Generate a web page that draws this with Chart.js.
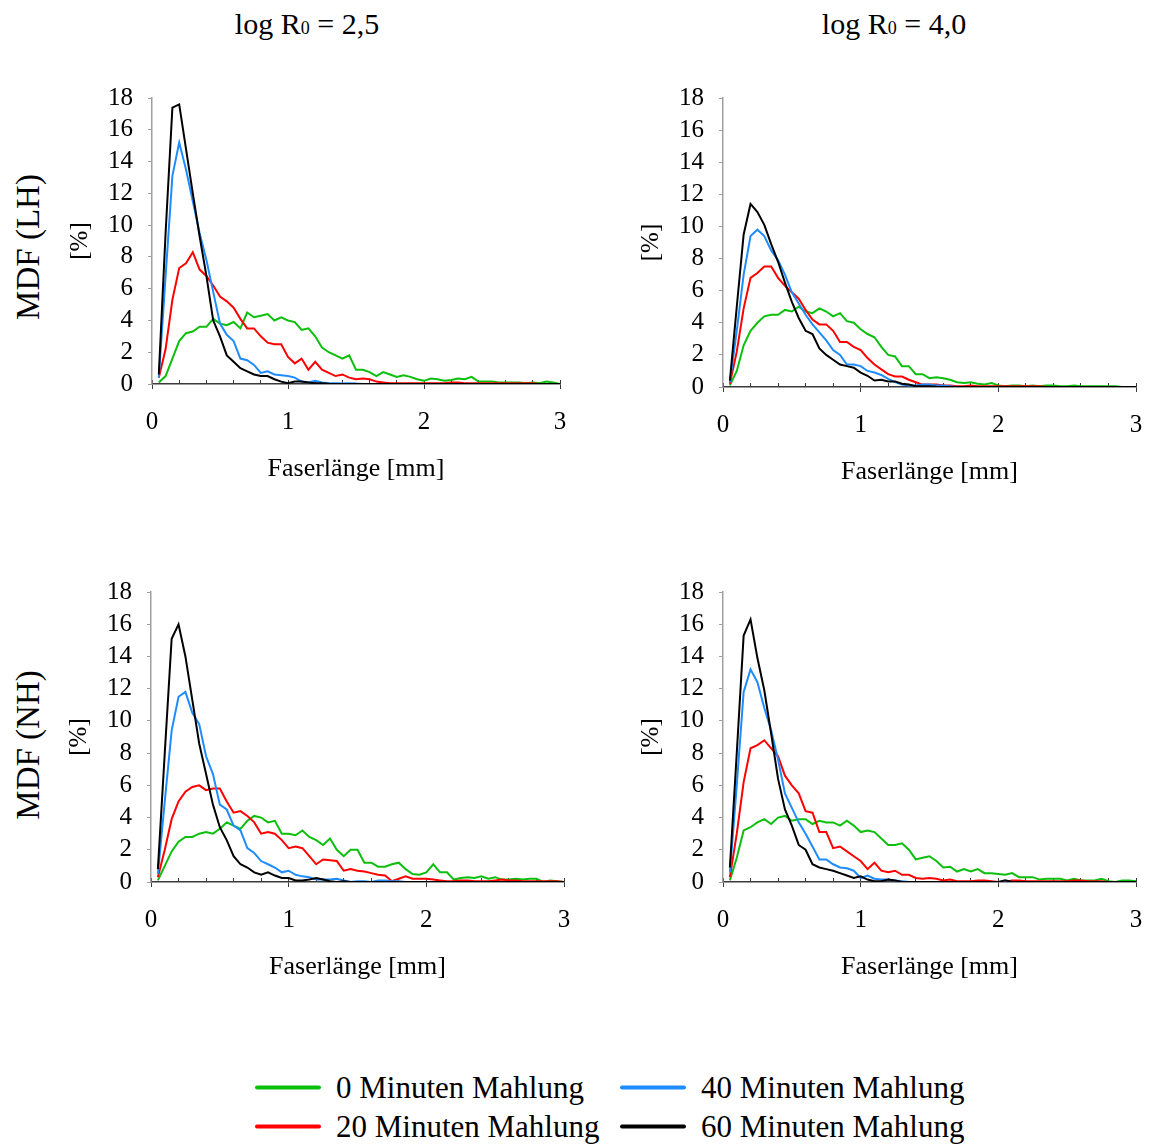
<!DOCTYPE html>
<html lang="de">
<head>
<meta charset="utf-8">
<title>MDF – Faserlängenverteilung</title>
<script src="https://cdn.jsdelivr.net/npm/chart.js@4/dist/chart.umd.min.js"></script>
<style>
  html, body { margin: 0; padding: 0; background: #fff; }
  body {
    position: relative; width: 1151px; height: 1144px; overflow: hidden;
    font-family: "Liberation Serif", "Times New Roman", serif; color: #000;
  }
  canvas { position: absolute; }
  .txt { position: absolute; line-height: 1; white-space: nowrap; }
  .col-title { font-size: 30px; transform: translateX(-50%); }
  .col-title span { font-size: 0.6em; }
  .row-title { font-size: 33px; transform: translate(-50%, -50%) rotate(-90deg); }
  .legend { font-size: 31px; display: flex; align-items: center; transform: translateY(-50%); }
  .legend i { display: inline-block; width: 66px; height: 4px; border-radius: 2px; margin-right: 15px; }
</style>
</head>
<body>
<script>
// Massenverteilungsdichte (MDF) der Faserlänge, Klassenbreite 0,05 mm
const faserlaenge = [
  0.05, 0.1, 0.15, 0.2, 0.25, 0.3, 0.35, 0.4, 0.45, 0.5,
  0.55, 0.6, 0.65, 0.7, 0.75, 0.8, 0.85, 0.9, 0.95, 1.0,
  1.05, 1.1, 1.15, 1.2, 1.25, 1.3, 1.35, 1.4, 1.45, 1.5,
  1.55, 1.6, 1.65, 1.7, 1.75, 1.8, 1.85, 1.9, 1.95, 2.0,
  2.05, 2.1, 2.15, 2.2, 2.25, 2.3, 2.35, 2.4, 2.45, 2.5,
  2.55, 2.6, 2.65, 2.7, 2.75, 2.8, 2.85, 2.9, 2.95, 3.0,
];

const mahlung = ['0 Minuten Mahlung', '20 Minuten Mahlung', '40 Minuten Mahlung', '60 Minuten Mahlung'];
const farben = ['#0cbf0c', '#ff0000', '#1e8cff', '#000000'];

const xTicks = [0, 1, 2, 3];
const yTicks = [0, 2, 4, 6, 8, 10, 12, 14, 16, 18];

// LH, log R0 = 2,5
const lh25m0 = [
  0.1, 0.5, 1.6, 2.7, 3.2, 3.3, 3.6, 3.6, 4.1, 3.8,
  3.7, 3.9, 3.5, 4.5, 4.2, 4.3, 4.4, 4.0, 4.2, 4.0,
  3.9, 3.4, 3.5, 3.0, 2.3, 2.0, 1.8, 1.6, 1.8, 0.9,
  0.9, 0.75, 0.5, 0.75, 0.6, 0.45, 0.55, 0.45, 0.3, 0.2,
  0.35, 0.3, 0.2, 0.25, 0.35, 0.3, 0.45, 0.15, 0.15, 0.15,
  0.1, 0.1, 0.1, 0.1, 0.05, 0.1, 0.05, 0.15, 0.1, 0.0,
];
const lh25m20 = [
  0.4, 2.2, 5.3, 7.3, 7.6, 8.3, 7.2, 6.8, 6.2, 5.5,
  5.2, 4.8, 4.1, 3.5, 3.5, 3.0, 2.6, 2.5, 2.5, 1.7,
  1.3, 1.6, 0.9, 1.4, 0.9, 0.7, 0.5, 0.6, 0.4, 0.3,
  0.35, 0.3, 0.15, 0.1, 0.05, 0.05, 0.05, 0.05, 0.05, 0.05,
  0.05, 0.05, 0.05, 0.1, 0.1, 0.05, 0.05, 0.05, 0.05, 0.05,
  0.05, 0.05, 0.05, 0.05, 0.05, 0.05, 0.0, 0.0, 0.0, 0.0,
];
const lh25m40 = [
  0.4, 6.8, 13.1, 15.2, 13.5, 11.5, 9.5, 7.8, 5.8, 3.8,
  3.1, 2.7, 1.6, 1.5, 1.2, 0.7, 0.8, 0.6, 0.55, 0.5,
  0.4, 0.15, 0.1, 0.2, 0.1, 0.05, 0.05, 0.03, 0.05, 0.03,
  0.0, 0.0, 0.0, 0.0, 0.0, 0.0, 0.0, 0.0, 0.0, 0.0,
  0.0, 0.0, 0.0, 0.0, 0.0, 0.0, 0.0, 0.0, 0.0, 0.0,
  0.0, 0.0, 0.0, 0.0, 0.0, 0.0, 0.0, 0.0, 0.0, 0.0,
];
const lh25m60 = [
  0.6, 9.5, 17.4, 17.6, 14.8, 12.0, 9.3, 6.8, 4.0, 3.0,
  1.8, 1.4, 1.0, 0.8, 0.6, 0.5, 0.5, 0.3, 0.15, 0.05,
  0.15, 0.15, 0.1, 0.05, 0.05, 0.02, 0.0, 0.0, 0.0, 0.0,
  0.0, 0.0, 0.0, 0.0, 0.0, 0.0, 0.0, 0.0, 0.0, 0.0,
  0.0, 0.0, 0.0, 0.0, 0.0, 0.0, 0.0, 0.0, 0.0, 0.0,
  0.0, 0.0, 0.0, 0.0, 0.0, 0.0, 0.0, 0.0, 0.0, 0.0,
];

// LH, log R0 = 4,0
const lh40m0 = [
  0.1, 1.0, 2.6, 3.5, 4.0, 4.4, 4.5, 4.5, 4.8, 4.7,
  5.0, 4.7, 4.6, 4.9, 4.7, 4.4, 4.6, 4.1, 4.0, 3.6,
  3.3, 3.1, 2.5, 2.0, 1.9, 1.3, 1.3, 0.8, 0.8, 0.55,
  0.6, 0.55, 0.45, 0.3, 0.25, 0.3, 0.2, 0.15, 0.25, 0.1,
  0.05, 0.1, 0.1, 0.05, 0.1, 0.05, 0.1, 0.1, 0.05, 0.05,
  0.1, 0.05, 0.05, 0.05, 0.05, 0.05, 0.05, 0.0, 0.0, 0.0,
];
const lh40m20 = [
  0.2, 2.2, 4.9, 6.8, 7.1, 7.5, 7.5, 6.8, 6.3, 5.9,
  5.5, 4.8, 4.2, 3.9, 3.9, 3.5, 2.8, 2.8, 2.5, 2.3,
  1.8, 1.4, 1.1, 0.8, 0.65, 0.65, 0.45, 0.3, 0.15, 0.15,
  0.15, 0.1, 0.1, 0.05, 0.05, 0.1, 0.05, 0.05, 0.05, 0.05,
  0.05, 0.05, 0.05, 0.05, 0.05, 0.05, 0.0, 0.0, 0.0, 0.0,
  0.0, 0.0, 0.0, 0.0, 0.0, 0.0, 0.0, 0.0, 0.0, 0.0,
];
const lh40m40 = [
  0.3, 3.5, 7.0, 9.4, 9.8, 9.4, 8.5, 7.9, 7.0, 5.9,
  5.2, 4.5, 3.9, 3.4, 2.9, 2.3, 2.0, 1.4, 1.4, 1.3,
  1.0, 0.9, 0.75, 0.5, 0.3, 0.15, 0.1, 0.1, 0.15, 0.15,
  0.1, 0.1, 0.05, 0.0, 0.0, 0.0, 0.0, 0.0, 0.0, 0.0,
  0.0, 0.0, 0.0, 0.0, 0.0, 0.0, 0.0, 0.0, 0.0, 0.0,
  0.0, 0.0, 0.0, 0.0, 0.0, 0.0, 0.0, 0.0, 0.0, 0.0,
];
const lh40m60 = [
  0.4, 5.0, 9.5, 11.4, 10.9, 10.1, 8.9, 7.8, 6.5, 5.3,
  4.3, 3.5, 3.3, 2.4, 2.0, 1.7, 1.4, 1.3, 1.2, 0.9,
  0.7, 0.4, 0.45, 0.35, 0.35, 0.2, 0.15, 0.05, 0.05, 0.05,
  0.02, 0.0, 0.0, 0.0, 0.0, 0.0, 0.0, 0.0, 0.0, 0.0,
  0.0, 0.0, 0.0, 0.0, 0.0, 0.0, 0.0, 0.0, 0.0, 0.0,
  0.0, 0.0, 0.0, 0.0, 0.0, 0.0, 0.0, 0.0, 0.0, 0.0,
];

// NH, log R0 = 2,5
const nh25m0 = [
  0.1, 1.0, 1.9, 2.5, 2.8, 2.8, 3.0, 3.1, 3.0, 3.3,
  3.7, 3.5, 3.3, 3.8, 4.1, 4.0, 3.7, 3.8, 3.0, 3.0,
  2.9, 3.2, 2.8, 2.6, 2.3, 2.7, 2.0, 1.6, 2.0, 2.0,
  1.2, 1.2, 0.95, 0.95, 1.1, 1.2, 0.8, 0.5, 0.45, 0.6,
  1.1, 0.6, 0.6, 0.15, 0.25, 0.3, 0.25, 0.35, 0.2, 0.3,
  0.15, 0.15, 0.2, 0.15, 0.2, 0.2, 0.0, 0.1, 0.05, 0.0,
];
const nh25m20 = [
  0.3, 2.0, 3.9, 5.0, 5.6, 5.9, 6.0, 5.7, 5.8, 5.8,
  5.0, 4.3, 4.4, 4.1, 3.7, 3.0, 3.1, 3.0, 2.6, 2.1,
  2.2, 2.1, 1.6, 1.1, 1.4, 1.35, 1.3, 0.7, 0.8, 0.7,
  0.65, 0.55, 0.45, 0.4, 0.05, 0.2, 0.35, 0.2, 0.2, 0.2,
  0.15, 0.1, 0.05, 0.05, 0.1, 0.1, 0.05, 0.05, 0.05, 0.1,
  0.15, 0.1, 0.1, 0.05, 0.05, 0.05, 0.05, 0.05, 0.05, 0.0,
];
const nh25m40 = [
  0.5, 5.0, 9.4, 11.5, 11.8, 10.5, 9.8, 7.8, 6.7, 4.8,
  4.5, 3.5, 3.2, 2.1, 1.8, 1.3, 1.1, 0.9, 0.6, 0.7,
  0.45, 0.35, 0.3, 0.15, 0.15, 0.15, 0.2, 0.1, 0.0, 0.05,
  0.05, 0.0, 0.1, 0.1, 0.05, 0.05, 0.0, 0.0, 0.0, 0.0,
  0.0, 0.0, 0.0, 0.0, 0.0, 0.0, 0.0, 0.0, 0.0, 0.0,
  0.0, 0.0, 0.0, 0.0, 0.0, 0.0, 0.0, 0.0, 0.0, 0.0,
];
const nh25m60 = [
  0.8, 8.0, 15.1, 16.0, 14.0, 11.3, 8.6, 6.7, 4.8, 3.4,
  2.6, 1.6, 1.1, 0.9, 0.6, 0.45, 0.6, 0.4, 0.25, 0.25,
  0.1, 0.1, 0.15, 0.25, 0.15, 0.05, 0.0, 0.05, 0.0, 0.0,
  0.0, 0.0, 0.0, 0.0, 0.0, 0.0, 0.0, 0.0, 0.0, 0.0,
  0.0, 0.0, 0.0, 0.0, 0.0, 0.0, 0.0, 0.0, 0.0, 0.0,
  0.0, 0.0, 0.0, 0.0, 0.0, 0.0, 0.0, 0.0, 0.0, 0.0,
];

// NH, log R0 = 4,0
const nh40m0 = [
  0.1, 1.5, 3.2, 3.4, 3.7, 3.9, 3.6, 4.0, 4.1, 3.8,
  3.9, 3.9, 3.6, 3.8, 3.7, 3.7, 3.5, 3.8, 3.5, 3.1,
  3.2, 3.1, 2.7, 2.3, 2.3, 2.4, 2.0, 1.4, 1.5, 1.6,
  1.3, 0.9, 0.95, 0.65, 0.8, 0.65, 0.8, 0.55, 0.55, 0.5,
  0.45, 0.55, 0.3, 0.3, 0.3, 0.15, 0.2, 0.2, 0.2, 0.1,
  0.2, 0.1, 0.1, 0.1, 0.2, 0.05, 0.0, 0.1, 0.1, 0.05,
];
const nh40m20 = [
  0.3, 3.0, 6.2, 8.3, 8.5, 8.8, 8.3, 7.8, 6.6, 6.0,
  5.5, 4.4, 4.3, 3.1, 3.1, 2.1, 2.2, 1.9, 1.6, 1.3,
  0.8, 1.2, 0.7, 0.6, 0.7, 0.45, 0.45, 0.25, 0.2, 0.25,
  0.2, 0.1, 0.15, 0.05, 0.05, 0.05, 0.1, 0.1, 0.05, 0.0,
  0.0, 0.1, 0.1, 0.05, 0.05, 0.05, 0.05, 0.05, 0.05, 0.05,
  0.1, 0.1, 0.05, 0.05, 0.05, 0.0, 0.0, 0.0, 0.0, 0.0,
];
const nh40m40 = [
  0.6, 6.0, 11.8, 13.2, 12.4, 10.8, 9.4, 7.6, 5.5, 4.6,
  3.7, 3.0, 2.2, 1.4, 1.4, 1.1, 0.9, 0.85, 0.7, 0.25,
  0.4, 0.2, 0.15, 0.15, 0.1, 0.05, 0.0, 0.0, 0.0, 0.0,
  0.0, 0.0, 0.0, 0.0, 0.0, 0.0, 0.0, 0.0, 0.0, 0.0,
  0.05, 0.0, 0.0, 0.0, 0.0, 0.0, 0.0, 0.0, 0.0, 0.0,
  0.0, 0.0, 0.0, 0.0, 0.0, 0.0, 0.0, 0.0, 0.0, 0.0,
];
const nh40m60 = [
  0.9, 8.0, 15.3, 16.3, 13.9, 11.9, 9.2, 6.4, 4.5, 3.5,
  2.3, 2.0, 1.1, 0.9, 0.8, 0.7, 0.55, 0.4, 0.25, 0.35,
  0.15, 0.05, 0.05, 0.15, 0.1, 0.0, 0.0, 0.0, 0.0, 0.0,
  0.0, 0.0, 0.0, 0.0, 0.0, 0.0, 0.0, 0.0, 0.0, 0.0,
  0.1, 0.0, 0.0, 0.0, 0.0, 0.0, 0.0, 0.0, 0.0, 0.0,
  0.0, 0.0, 0.0, 0.0, 0.0, 0.0, 0.0, 0.0, 0.0, 0.0,
];

// page layout: plot areas in page pixels, axis boxes are fixed so the four
// plots line up like the printed figure
const Y_AXIS_W = 91;
const X_AXIS_H = 116;
const PAD_TOP = 28;
const PAD_RIGHT = 14;
const AXIS_DARK = '#3a3a3a';
const AXIS_GREY = '#a0a0a0';

const panels = [
  { series: [lh25m0, lh25m20, lh25m40, lh25m60], area: { left: 152, right: 560, top: 98, bottom: 384 } },
  { series: [lh40m0, lh40m20, lh40m40, lh40m60], area: { left: 723, right: 1136, top: 98, bottom: 387 } },
  { series: [nh25m0, nh25m20, nh25m40, nh25m60], area: { left: 151, right: 564, top: 592, bottom: 882 } },
  { series: [nh40m0, nh40m20, nh40m40, nh40m60], area: { left: 723, right: 1136, top: 592, bottom: 882 } },
];

Chart.defaults.font.family = '"Liberation Serif", "Times New Roman", serif';
Chart.defaults.color = '#000';

function text(cls, html, left, top) {
  const d = document.createElement('div');
  d.className = 'txt ' + cls;
  d.innerHTML = html;
  d.style.left = left + 'px';
  d.style.top = top + 'px';
  document.body.append(d);
  return d;
}

function renderPanel(p) {
  const canvas = document.createElement('canvas');
  const left = p.area.left - Y_AXIS_W;
  const top = p.area.top - PAD_TOP;
  canvas.width = p.area.right + PAD_RIGHT - left;
  canvas.height = p.area.bottom + X_AXIS_H - top;
  canvas.style.left = left + 'px';
  canvas.style.top = top + 'px';
  document.body.append(canvas);

  return new Chart(canvas, {
    type: 'line',
    data: {
      labels: faserlaenge,
      datasets: p.series.map((values, i) => ({
        label: mahlung[i],
        data: values,
        borderColor: farben[i],
        borderWidth: 2,
        pointRadius: 0,
        tension: 0,
        fill: false,
        order: 3 - i,
        xAxisID: 'x',
        yAxisID: 'y',
      })),
    },
    options: {
      responsive: false,
      animation: false,
      events: [],
      layout: { padding: { top: PAD_TOP, right: PAD_RIGHT, left: 0, bottom: 0 } },
      plugins: { legend: { display: false }, tooltip: { enabled: false } },
      scales: {
        // small inward ticks every 0.2 mm
        x: {
          type: 'linear',
          position: 'bottom',
          weight: 0,
          min: 0,
          max: 3,
          ticks: { display: false, stepSize: 0.2, autoSkip: false },
          grid: { drawOnChartArea: false, tickLength: -4, tickColor: AXIS_DARK },
          border: { display: false },
          afterFit: (s) => { s.height = 0; s.paddingLeft = 0; s.paddingRight = 0; },
        },
        // labelled axis with outward ticks at whole millimetres
        xMajor: {
          type: 'linear',
          position: 'bottom',
          weight: 1,
          min: 0,
          max: 3,
          afterBuildTicks: (s) => { s.ticks = xTicks.map((v) => ({ value: v })); },
          ticks: { padding: 18, font: { size: 25 }, autoSkip: false, maxRotation: 0 },
          grid: { drawOnChartArea: false, tickLength: 5, tickColor: AXIS_DARK },
          border: { color: AXIS_DARK, width: 1.5 },
          title: { display: true, text: 'Faserlänge [mm]', font: { size: 26 }, padding: { top: 0, bottom: 15 } },
          afterFit: (s) => { s.height = X_AXIS_H; s.paddingLeft = 0; s.paddingRight = 0; },
        },
        y: {
          min: 0,
          max: 18,
          afterBuildTicks: (s) => { s.ticks = yTicks.map((v) => ({ value: v })); },
          ticks: { padding: 15, font: { size: 25 }, autoSkip: false },
          grid: { drawOnChartArea: false, tickLength: 4, tickColor: AXIS_GREY },
          border: { color: AXIS_GREY, width: 1.5 },
          title: { display: true, text: '[%]', font: { size: 25 }, padding: { top: 4, bottom: 0 } },
          afterFit: (s) => { s.width = Y_AXIS_W; s.paddingTop = 0; s.paddingBottom = 0; },
        },
      },
    },
  });
}

panels.forEach(renderPanel);

text('col-title', 'log R<span>0</span> = 2,5', 307, 9);
text('col-title', 'log R<span>0</span> = 4,0', 894, 9);
text('row-title', 'MDF (LH)', 28, 247);
text('row-title', 'MDF (NH)', 28, 745);

const legendPos = [[255, 1087], [255, 1126], [620, 1087], [620, 1126]];
mahlung.forEach((label, i) => {
  const [x, y] = legendPos[i];
  text('legend', `<i style="background:${farben[i]}"></i>${label}`, x, y);
});
</script>
</body>
</html>
